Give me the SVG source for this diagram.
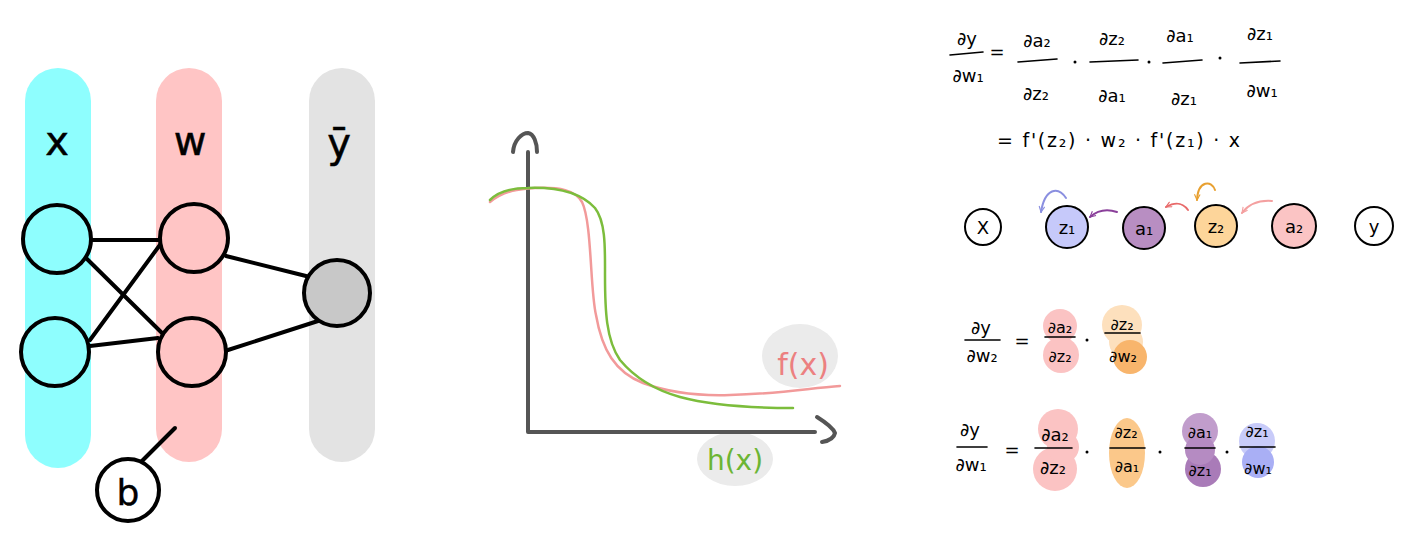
<svg xmlns="http://www.w3.org/2000/svg" width="1412" height="550" viewBox="0 0 1412 550">
<defs>
<style>
.hand{font-family:"DejaVu Sans","Liberation Sans",sans-serif;fill:#000;}
.big{font-size:40px;stroke:#000;stroke-width:0.5;}
.eq{font-size:18px;text-anchor:middle;}
.eqs{font-size:16px;text-anchor:middle;}
.nl{stroke:#000;stroke-width:4;fill:none;stroke-linecap:round;}
.node{stroke:#000;stroke-width:4;}
.fl{stroke:#000;stroke-width:1.6;fill:none;stroke-linecap:round;}
.rn{stroke:#000;stroke-width:2;}
.ax{stroke:#555;stroke-width:4;fill:none;stroke-linecap:round;stroke-linejoin:round;}
</style>
<marker id="hd" viewBox="0 0 10 10" refX="9" refY="5" markerWidth="7" markerHeight="7" orient="auto" markerUnits="userSpaceOnUse">
<path d="M1,1 L9,5 L1,9" fill="none" stroke="context-stroke" stroke-width="1.6"/>
</marker>
</defs>
<rect width="1412" height="550" fill="#fff"/>

<g id="bar-x"><rect x="25" y="68" width="66" height="400" rx="33" fill="#8efefe"/>
<text class="hand big" x="57" y="155" text-anchor="middle">x</text></g>
<g id="bar-w"><rect x="156" y="68" width="66" height="394" rx="33" fill="#ffc5c5"/>
<text class="hand big" x="190" y="155" text-anchor="middle">w</text></g>
<g id="bar-y"><rect x="309" y="68" width="66" height="394" rx="33" fill="#e3e3e3"/>
<text class="hand big" x="339" y="157" text-anchor="middle">ȳ</text></g>

<g id="net-connectors">
<path class="nl" d="M92,240 L165,240"/>
<path class="nl" d="M86,258 L162,333"/>
<path class="nl" d="M90,340 L165,238"/>
<path class="nl" d="M90,346 L158,338"/>
<path class="nl" d="M226,256 L306,276"/>
<path class="nl" d="M228,350 L318,321"/>
<path class="nl" d="M175,428 L141,462"/>
</g>
<g id="x1"><circle class="node" cx="57" cy="239" r="34" fill="#8efefe"/></g>
<g id="x2"><circle class="node" cx="55" cy="352" r="34" fill="#8efefe"/></g>
<g id="h1"><circle class="node" cx="194" cy="238" r="34" fill="#ffc5c5"/></g>
<g id="h2"><circle class="node" cx="192" cy="352" r="34" fill="#ffc5c5"/></g>
<g id="out"><circle class="node" cx="337" cy="293" r="33" fill="#c8c8c8"/></g>
<g id="bias"><circle class="node" cx="128" cy="490" r="31" fill="#fff"/>
<text class="hand" x="128" y="505" font-size="36" text-anchor="middle" stroke="#000" stroke-width="0.4">b</text></g>

<g id="plot">
<ellipse cx="800" cy="356" rx="38" ry="32" fill="#ebebeb"/>
<ellipse cx="735" cy="459" rx="38" ry="27" fill="#ebebeb"/>
<path class="ax" d="M528,152 L528,432 L815,432"/>
<path class="ax" d="M513,152 C514,140 522,133 528,133 C534,134 537,143 537,152"/>
<path class="ax" d="M817,417 C825,422 833,428 835,433 C834,438 828,441 822,442"/>
<path d="M490,202 C505,190 520,189 535,188 C560,187 575,190 582,202 C592,222 590,290 596,315 C602,350 615,372 643,383 C670,393 700,396 730,395 C780,394 810,388 840,386" fill="none" stroke="#f29a9a" stroke-width="2.5" stroke-linecap="round"/>
<path d="M490,200 C500,190 515,188 528,188 C555,187 580,192 595,208 C606,222 605,250 605,275 C605,310 606,340 620,360 C635,378 655,390 680,397 C710,405 750,408 793,408" fill="none" stroke="#7cbd3c" stroke-width="2.5" stroke-linecap="round"/>
<text class="hand" x="803" y="375" font-size="30" text-anchor="middle" style="fill:#ec8080">f(x)</text>
<text class="hand" x="735" y="470" font-size="28" text-anchor="middle" style="fill:#6cb534">h(x)</text>
</g>

<g id="eq-top">
<text class="hand eq" x="967" y="45">∂y</text>
<path class="fl" d="M950,55 L983,52"/>
<text class="hand eq" x="968" y="82">∂w₁</text>
<text class="hand eq" x="997" y="58">=</text>
<text class="hand eq" x="1037" y="47">∂a₂</text>
<path class="fl" d="M1018,62 L1057,59"/>
<text class="hand eq" x="1036" y="100">∂z₂</text>
<circle cx="1075" cy="62" r="1.5"/>
<text class="hand eq" x="1112" y="45">∂z₂</text>
<path class="fl" d="M1090,62 L1138,60"/>
<text class="hand eq" x="1112" y="102">∂a₁</text>
<circle cx="1149" cy="62" r="1.5"/>
<text class="hand eq" x="1180" y="42">∂a₁</text>
<path class="fl" d="M1163,63 L1202,60"/>
<text class="hand eq" x="1184" y="105">∂z₁</text>
<circle cx="1220" cy="58" r="1.5"/>
<text class="hand eq" x="1260" y="40">∂z₁</text>
<path class="fl" d="M1240,63 L1280,61"/>
<text class="hand eq" x="1262" y="97">∂w₁</text>
<text class="hand" x="997" y="147" font-size="19" textLength="243" lengthAdjust="spacing">= f'(z₂) · w₂ · f'(z₁) · x</text>
</g>

<g id="chain-connectors" fill="none" stroke-linecap="round">
<path d="M1272,201 C1258,200 1248,205 1242,213" stroke="#f4a0a0" stroke-width="2" marker-end="url(#hd)"/>
<path d="M1188,210 C1182,202 1175,202 1166,207" stroke="#e86a6a" stroke-width="2" marker-end="url(#hd)"/>
<path d="M1215,190 C1212,180 1198,180 1197,200" stroke="#e8a030" stroke-width="2" marker-end="url(#hd)"/>
<path d="M1117,212 C1108,209 1098,210 1090,217" stroke="#8a3f9a" stroke-width="2" marker-end="url(#hd)"/>
<path d="M1066,198 C1058,186 1045,188 1041,212" stroke="#8a8fe0" stroke-width="2" marker-end="url(#hd)"/>
</g>
<g id="n-x"><circle class="rn" cx="983" cy="227" r="18" fill="#fff"/><text class="hand" x="983" y="234" font-size="18" text-anchor="middle">X</text></g>
<g id="n-z1"><circle class="rn" cx="1067" cy="227" r="21" fill="#c6c9fa"/><text class="hand" x="1067" y="234" font-size="18" text-anchor="middle">z₁</text></g>
<g id="n-a1"><circle class="rn" cx="1144" cy="228" r="21" fill="#b88ec2"/><text class="hand" x="1144" y="235" font-size="18" text-anchor="middle">a₁</text></g>
<g id="n-z2"><circle class="rn" cx="1216" cy="226" r="21" fill="#fdd59a"/><text class="hand" x="1216" y="233" font-size="18" text-anchor="middle">z₂</text></g>
<g id="n-a2"><circle class="rn" cx="1294" cy="226" r="22" fill="#fbc4c4"/><text class="hand" x="1294" y="233" font-size="18" text-anchor="middle">a₂</text></g>
<g id="n-y"><circle class="rn" cx="1374" cy="226" r="19" fill="#fff"/><text class="hand" x="1374" y="233" font-size="18" text-anchor="middle">y</text></g>

<g id="eq-w2">
<circle cx="1060" cy="326" r="17" fill="#fbc3c3"/><circle cx="1061" cy="355" r="18" fill="#fbc3c3"/>
<circle cx="1122" cy="325" r="20" fill="#fde0bd"/><circle cx="1126" cy="342" r="17" fill="#fde0bd"/>
<circle cx="1130" cy="357" r="17" fill="#f8b56c"/>
<text class="hand eq" x="981" y="334">∂y</text>
<path class="fl" d="M965,340 L1000,340"/>
<text class="hand eq" x="982" y="362">∂w₂</text>
<text class="hand eq" x="1022" y="347">=</text>
<text class="hand eqs" x="1060" y="333">∂a₂</text>
<path class="fl" d="M1045,337 L1075,337"/>
<text class="hand eqs" x="1060" y="362">∂z₂</text>
<circle cx="1087" cy="340" r="1.5"/>
<text class="hand eqs" x="1122" y="330">∂z₂</text>
<path class="fl" d="M1105,333 L1140,333"/>
<text class="hand eqs" x="1123" y="362">∂w₂</text>
</g>

<g id="eq-w1">
<circle cx="1058" cy="429" r="20" fill="#fbc3c3"/><circle cx="1055" cy="469" r="22" fill="#fbc3c3"/><circle cx="1063" cy="447" r="16" fill="#fbc3c3"/>
<ellipse cx="1127" cy="453" rx="18" ry="35" fill="#fbc88a"/>
<circle cx="1200" cy="431" r="18" fill="#c19dcc"/><circle cx="1203" cy="469" r="18" fill="#a97bb8"/><circle cx="1200" cy="450" r="15" fill="#b58bc2"/>
<circle cx="1257" cy="441" r="18" fill="#c8cbf9"/><circle cx="1258" cy="462" r="16" fill="#a9aff5"/>
<text class="hand eq" x="970" y="436">∂y</text>
<path class="fl" d="M957,447 L987,447"/>
<text class="hand eq" x="971" y="471">∂w₁</text>
<text class="hand eq" x="1012" y="456">=</text>
<text class="hand eq" x="1055" y="441">∂a₂</text>
<path class="fl" d="M1035,448 L1072,448"/>
<text class="hand eq" x="1053" y="474">∂z₂</text>
<circle cx="1087" cy="452" r="1.5"/>
<text class="hand eqs" x="1126" y="438">∂z₂</text>
<path class="fl" d="M1110,448 L1145,448"/>
<text class="hand eqs" x="1127" y="472">∂a₁</text>
<circle cx="1160" cy="452" r="1.5"/>
<text class="hand eqs" x="1200" y="438">∂a₁</text>
<path class="fl" d="M1185,448 L1215,448"/>
<text class="hand eqs" x="1200" y="476">∂z₁</text>
<circle cx="1227" cy="452" r="1.5"/>
<text class="hand eqs" x="1257" y="437">∂z₁</text>
<path class="fl" d="M1240,447 L1275,447"/>
<text class="hand eqs" x="1258" y="474">∂w₁</text>
</g>
</svg>
